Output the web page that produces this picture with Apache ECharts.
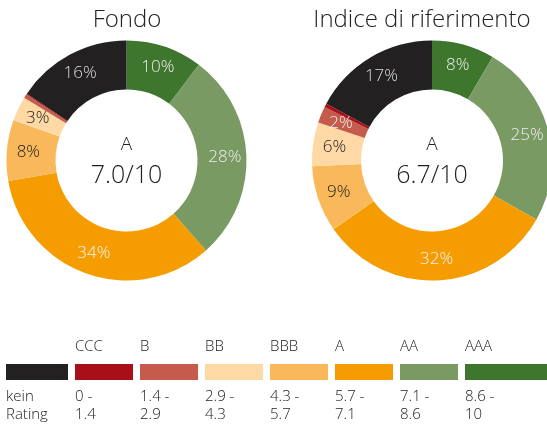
<!DOCTYPE html>
<html><head><meta charset="utf-8">
<script src="https://cdn.jsdelivr.net/npm/echarts@6/dist/echarts.min.js"></script>
<style>html,body{margin:0;padding:0;background:#fff}#c{width:547px;height:425px}</style>
</head><body><div id="c"></div>
<script>
// Categories in pie order (clockwise from top)
const categories = ['AAA','AA','A','BBB','BB','B','CCC','kein Rating'];
const colors = ['#3e762e','#7a9a63','#f49c00','#f9b95b','#fed8a5','#c55b4b','#a90f18','#222021'];
const labelColors = ['#eeeeee','#eeeeee','#f4f4f4','#222222','#222222','#f0f0f0','#f0f0f0','#dddddd'];
const fondoValues = [10.3, 28.2, 33.8, 8.2, 3.3, 0.5, 0.15, 15.6];
const indexValues = [8.4, 24.7, 32.0, 8.9, 5.9, 2.2, 0.5, 17.1];
const titles = ['Fondo', 'Indice di riferimento'];
const centerRating = ['A', 'A'];
const centerScore = ['7.0/10', '6.7/10'];
// Legend (left to right)
const legendNames = ['', 'CCC', 'B', 'BB', 'BBB', 'A', 'AA', 'AAA'];
const legendColors = ['#222021','#a90f18','#c55b4b','#fed8a5','#f9b95b','#f49c00','#7a9a63','#3e762e'];
const legendRanges = [['kein','Rating'],['0 -','1.4'],['1.4 -','2.9'],['2.9 -','4.3'],['4.3 -','5.7'],['5.7 -','7.1'],['7.1 -','8.6'],['8.6 -','10']];

const FONT = '"Open Sans", "Noto Sans", sans-serif';
const centers = [[126.5, 160.5], [432, 160.5]];
const titleX = [127, 422];

function makeData(vals) {
  return categories.map((n, i) => ({
    name: n, value: vals[i],
    itemStyle: { color: colors[i] },
    label: { color: labelColors[i] }
  }));
}

const series = [fondoValues, indexValues].map((vals, k) => ({
  type: 'pie',
  center: centers[k],
  radius: [71, 120],
  startAngle: 90,
  clockwise: true,
  avoidLabelOverlap: false,
  silent: true,
  itemStyle: { borderWidth: 0 },
  label: {
    show: true, position: 'inside',
    fontFamily: FONT, fontSize: 17, fontWeight: 300,
    formatter: p => p.value >= 1.5 ? Math.round(p.value) + '%' : ''
  },
  labelLine: { show: false },
  data: makeData(vals)
}));

const graphic = [];
titles.forEach((t, k) => {
  graphic.push({ type: 'text', left: null, x: titleX[k], y: 20,
    style: { text: t, fontFamily: FONT, fontSize: 24, fontWeight: 300, fill: '#222', align: 'center', verticalAlign: 'middle' } });
  graphic.push({ type: 'text', x: centers[k][0], y: 145,
    style: { text: centerRating[k], fontFamily: FONT, fontSize: 19, fontWeight: 300, fill: '#222', align: 'center', verticalAlign: 'middle' } });
  graphic.push({ type: 'text', x: centers[k][0], y: 176,
    style: { text: centerScore[k], fontFamily: FONT, fontSize: 25, fontWeight: 300, fill: '#222', align: 'center', verticalAlign: 'middle' } });
});
legendNames.forEach((n, i) => {
  const x = i === 0 ? 6 : 75 + (i - 1) * 65;
  const w = i === 0 ? 62 : (i === legendNames.length - 1 ? 90 : 58);
  graphic.push({ type: 'rect', shape: { x: x, y: 364, width: w, height: 16 }, style: { fill: legendColors[i] } });
  if (n) graphic.push({ type: 'text', x: x, y: 347,
    style: { text: n, fontFamily: FONT, fontSize: 15, fontWeight: 300, fill: '#222', align: 'left', verticalAlign: 'middle' } });
  graphic.push({ type: 'text', x: x, y: 397,
    style: { text: legendRanges[i][0], fontFamily: FONT, fontSize: 15, fontWeight: 300, fill: '#222', align: 'left', verticalAlign: 'middle' } });
  graphic.push({ type: 'text', x: x, y: 415,
    style: { text: legendRanges[i][1], fontFamily: FONT, fontSize: 15, fontWeight: 300, fill: '#222', align: 'left', verticalAlign: 'middle' } });
});

const chart = echarts.init(document.getElementById('c'), null, { renderer: 'canvas' });
chart.setOption({ animation: false, series: series, graphic: graphic });
</script></body></html>
